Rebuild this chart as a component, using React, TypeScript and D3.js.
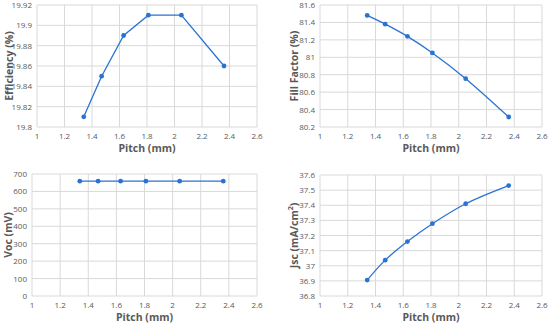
import * as d3 from 'd3';

const pitch = [1.34, 1.47, 1.63, 1.81, 2.05, 2.36];
const efficiency = [19.81, 19.85, 19.89, 19.91, 19.91, 19.86];
const fillFactor = [81.48, 81.38, 81.24, 81.05, 80.755, 80.315];
const voc = [659, 659, 659, 659, 659, 659];
const jsc = [36.905, 37.037, 37.16, 37.278, 37.41, 37.53];

const xTicks = [1, 1.2, 1.4, 1.6, 1.8, 2, 2.2, 2.4, 2.6];
const effTicks = [19.8, 19.82, 19.84, 19.86, 19.88, 19.9, 19.92];
const ffTicks = [80.2, 80.4, 80.6, 80.8, 81, 81.2, 81.4, 81.6];
const vocTicks = [0, 100, 200, 300, 400, 500, 600, 700];
const jscTicks = [36.8, 36.9, 37, 37.1, 37.2, 37.3, 37.4, 37.5, 37.6];

const LINE = '#2a73d2';
const GRID = '#d9d9d9';
const TEXT = '#595959';
const FONT = 'Open Sans, Liberation Sans, sans-serif';

type PanelProps = {
    left: number;
    right: number;
    top: number;
    bottom: number;
    values: number[];
    yTicks: number[];
    yLabel: any;
    labelX: number;
    smooth: boolean;
};

const Panel = ({ left, right, top, bottom, values, yTicks, yLabel, labelX, smooth }: PanelProps) => {
    const xScale = d3.scaleLinear().domain([1, 2.6]).range([left, right]);
    const yScale = d3
        .scaleLinear()
        .domain([yTicks[0], yTicks[yTicks.length - 1]])
        .range([bottom, top]);

    const line = d3
        .line<number>()
        .x((d, i) => xScale(pitch[i]))
        .y((d) => yScale(d))
        .curve(smooth ? d3.curveCatmullRom.alpha(0.5) : d3.curveLinear);

    return (
        <g>
            {xTicks.map((t, i) => (
                <g key={'x' + i}>
                    <line x1={xScale(t)} x2={xScale(t)} y1={top} y2={bottom} stroke={GRID} strokeWidth={1} />
                    <text x={xScale(t)} y={bottom + 12} textAnchor="middle" fontSize={8} fill={TEXT}>
                        {t}
                    </text>
                </g>
            ))}
            {yTicks.map((t, i) => (
                <g key={'y' + i}>
                    <line x1={left} x2={right} y1={yScale(t)} y2={yScale(t)} stroke={GRID} strokeWidth={1} />
                    <text x={left - 5} y={yScale(t) + 3} textAnchor="end" fontSize={8} fill={TEXT}>
                        {t}
                    </text>
                </g>
            ))}
            <path d={line(values) ?? ''} fill="none" stroke={LINE} strokeWidth={1.3} />
            {values.map((v, i) => (
                <circle key={i} cx={xScale(pitch[i])} cy={yScale(v)} r={2.4} fill={LINE} />
            ))}
            <text
                x={(left + right) / 2}
                y={bottom + 25}
                textAnchor="middle"
                fontSize={10.5}
                fontWeight="bold"
                fill={TEXT}
            >
                Pitch (mm)
            </text>
            <text
                transform={`translate(${labelX},${(top + bottom) / 2}) rotate(-90)`}
                textAnchor="middle"
                dominantBaseline="central"
                fontSize={10.5}
                fontWeight="bold"
                fill={TEXT}
            >
                {yLabel}
            </text>
        </g>
    );
};

export default function App() {
    return (
        <svg
            width={550}
            height={326}
            style={{ position: 'absolute', left: 0, top: 0, background: '#fff', fontFamily: FONT }}
        >
            <Panel left={37} right={257} top={5} bottom={127} values={efficiency} yTicks={effTicks} yLabel="Efficiency (%)" labelX={9} smooth={false} />
            <Panel left={320} right={542} top={5} bottom={127} values={fillFactor} yTicks={ffTicks} yLabel="Fill Factor (%)" labelX={294} smooth={true} />
            <Panel left={32} right={257} top={174} bottom={296} values={voc} yTicks={vocTicks} yLabel="Voc (mV)" labelX={8} smooth={false} />
            <Panel
                left={320}
                right={542}
                top={175}
                bottom={296}
                values={jsc}
                yTicks={jscTicks}
                labelX={294}
                yLabel={
                    <>
                        Jsc (mA/cm<tspan dy={-4} fontSize={7}>2</tspan>
                        <tspan dy={4}>)</tspan>
                    </>
                }
                smooth={true}
            />
        </svg>
    );
}
